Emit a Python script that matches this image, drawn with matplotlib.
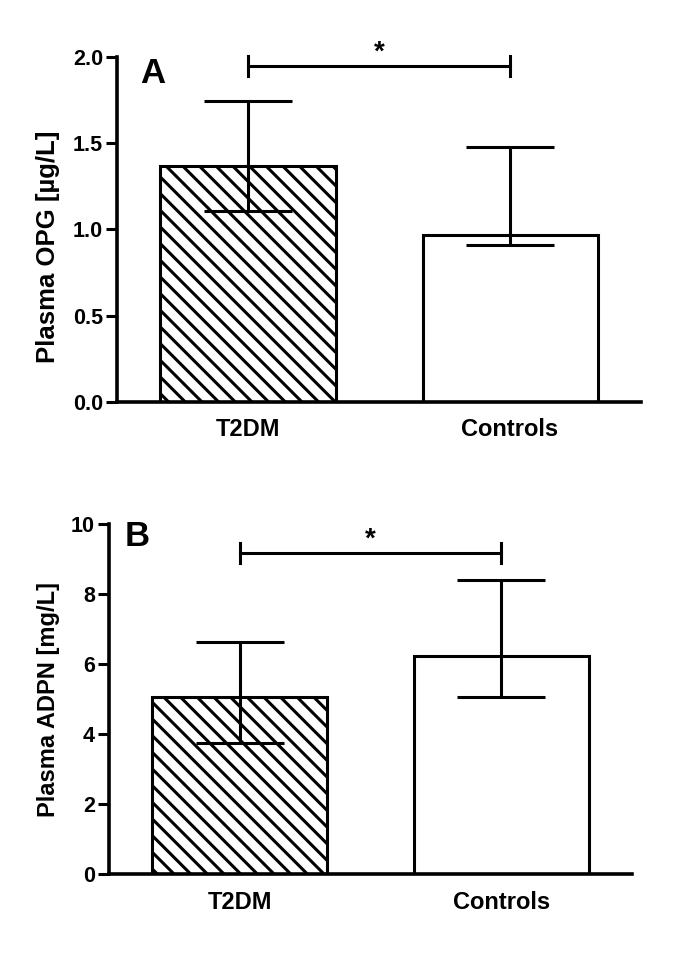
import numpy as np
import matplotlib
matplotlib.use("Agg")
import matplotlib.pyplot as plt

# group labels and values (median with interquartile range)
groups = ["T2DM", "Controls"]
opg_median = [1.37, 0.965]
opg_q1 = [1.11, 0.907]
opg_q3 = [1.745, 1.477]
adpn_median = [5.05, 6.24]
adpn_q1 = [3.74, 5.07]
adpn_q3 = [6.63, 8.40]

# height of the significance brackets
opg_sig = 1.948
adpn_sig = 9.17

plt.rcParams['font.family'] = ['Liberation Sans', 'DejaVu Sans']
plt.rcParams['font.weight'] = 'bold'
plt.rcParams['hatch.linewidth'] = 2.2

fig = plt.figure(figsize=(6.85, 9.69), dpi=100)
ax_a = fig.add_axes([0.1708, 0.5855, 0.765, 0.3554])
ax_b = fig.add_axes([0.1591, 0.0980, 0.7635, 0.3610])


def draw_panel(ax, median, q1, q3, ylim, yticks, yfmt, ylabel, label_size, letter, sig, sig_tick,
               label_xy, letter_xy):
    x = np.arange(len(groups))
    ax.bar(x, median, width=0.668, color="white", edgecolor="black", linewidth=2.2,
           hatch=["\\\\", ""], zorder=2)
    err = [np.array(median) - np.array(q1), np.array(q3) - np.array(median)]
    ax.errorbar(x, median, yerr=err, fmt="none", ecolor="black", elinewidth=2.2,
                capsize=32, capthick=2.2, zorder=3)

    ax.set_xlim(-0.5, 1.5)
    ax.set_ylim(*ylim)
    ax.set_xticks(x)
    ax.set_xticklabels(groups, fontsize=17, fontweight="bold")
    ax.tick_params(axis="x", length=0, pad=12)
    ax.set_yticks(yticks)
    ax.set_yticklabels([yfmt.format(v) for v in yticks], fontsize=15.5, fontweight="bold")
    ax.tick_params(axis="y", length=8, width=2.2, pad=2)

    for s in ["top", "right"]:
        ax.spines[s].set_visible(False)
    for s in ["left", "bottom"]:
        ax.spines[s].set_linewidth(2.6)

    ax.set_ylabel(ylabel, fontsize=label_size, fontweight="bold")
    ax.yaxis.set_label_coords(*label_xy)

    ax.text(letter_xy[0], letter_xy[1], letter, transform=ax.transAxes, fontsize=25,
            fontweight="bold", ha="left", va="bottom")

    # significance bracket
    ax.plot([x[0], x[1]], [sig, sig], color="black", linewidth=2.2, clip_on=False)
    for xi in x:
        ax.plot([xi, xi], [sig - sig_tick, sig + sig_tick], color="black",
                linewidth=2.2, clip_on=False)
    ax.text((x[0] + x[1]) / 2, sig + sig_tick * 0.1, "*", fontsize=20, fontweight="bold",
            ha="center", va="bottom", clip_on=False)


draw_panel(ax_a, opg_median, opg_q1, opg_q3, (0, 2.0), [0.0, 0.5, 1.0, 1.5, 2.0], "{:.1f}",
           "Plasma OPG [µg/L]", 18.5, "A", opg_sig, 0.058, (-0.109, 0.45), (0.045, 0.905))
draw_panel(ax_b, adpn_median, adpn_q1, adpn_q3, (0, 10), [0, 2, 4, 6, 8, 10], "{:d}",
           "Plasma ADPN [mg/L]", 17, "B", adpn_sig, 0.286, (-0.094, 0.5), (0.03, 0.918))

fig.savefig("out.png", dpi=100)
